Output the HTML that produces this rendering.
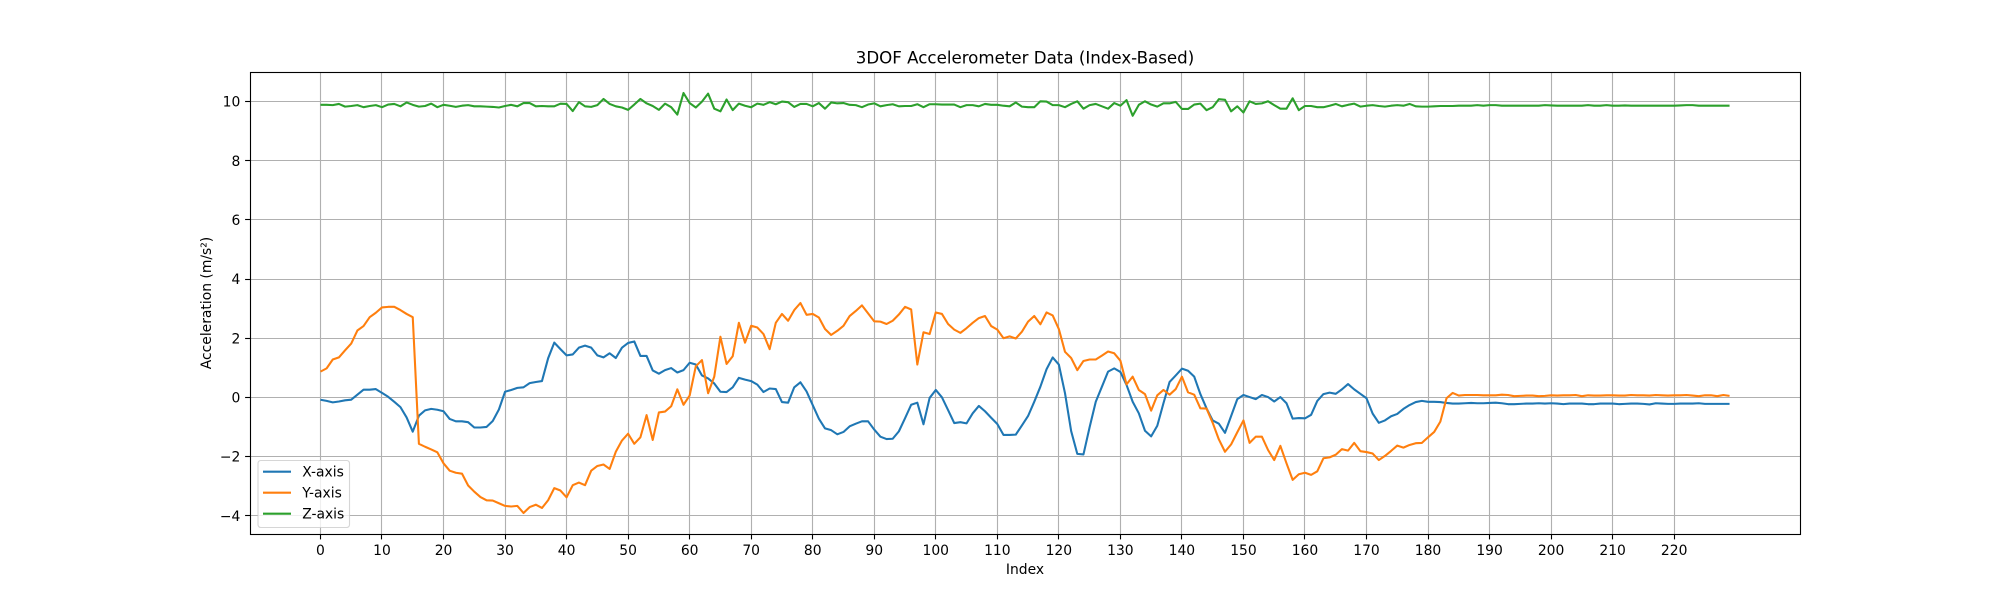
<!DOCTYPE html>
<html lang="en">
<head>
<meta charset="utf-8">
<title>3DOF Accelerometer Data (Index-Based)</title>
<style>
html,body{margin:0;padding:0;background:#fff;width:2000px;height:600px;overflow:hidden}
svg{display:block}
text{font-family:"DejaVu Sans","Liberation Sans",sans-serif;fill:#000}
</style>
</head>
<body>
<svg id="chart" xmlns="http://www.w3.org/2000/svg" width="2000" height="600" viewBox="0 0 2000 600">
  <rect x="0" y="0" width="2000" height="600" fill="#ffffff"/>
  <g id="grid"></g>
  <g id="series"></g>
  <rect x="250.5" y="72.5" width="1550" height="462" fill="none" stroke="#000" stroke-width="1.11"/>
  <g id="ticks"></g>
  <text x="1025" y="63.5" font-size="16.67" text-anchor="middle">3DOF Accelerometer Data (Index-Based)</text>
  <text x="1025" y="574" font-size="13.89" text-anchor="middle">Index</text>
  <text transform="translate(211 303) rotate(-90)" font-size="13.89" text-anchor="middle">Acceleration (m/s²)</text>
  <g>
    <rect x="258" y="460.5" width="91.5" height="67" rx="2.8" ry="2.8" fill="#ffffff" fill-opacity="0.8" stroke="#cccccc" stroke-opacity="0.8" stroke-width="1.11"/>
    <line x1="263" x2="291" y1="471.7" y2="471.7" stroke="#1f77b4" stroke-width="2.08"/>
    <text x="302.2" y="476.6" font-size="13.89">X-axis</text>
    <line x1="263" x2="291" y1="492.7" y2="492.7" stroke="#ff7f0e" stroke-width="2.08"/>
    <text x="302.2" y="497.6" font-size="13.89">Y-axis</text>
    <line x1="263" x2="291" y1="513.7" y2="513.7" stroke="#2ca02c" stroke-width="2.08"/>
    <text x="302.2" y="518.6" font-size="13.89">Z-axis</text>
  </g>
</svg>
<script>
const xTickValues = [0,10,20,30,40,50,60,70,80,90,100,110,120,130,140,150,160,170,180,190,200,210,220];
const yTickValues = [-4,-2,0,2,4,6,8,10];
const xAxisValues = [
-.08,-.12,-.17,-.14,-.10,-.08,.09,.26,.26,.28,
.15,.02,-.15,-.33,-.68,-1.16,-.62,-.44,-.39,-.42,
-.47,-.73,-.81,-.81,-.84,-1.02,-1.02,-1.0,-.8,-.41,
.19,.25,.32,.34,.48,.52,.55,1.32,1.85,1.63,
1.42,1.45,1.68,1.75,1.68,1.42,1.35,1.49,1.33,1.68,
1.84,1.89,1.40,1.40,.91,.80,.92,.99,.84,.92,
1.17,1.11,.74,.64,.47,.19,.18,.34,.66,.60,
.55,.43,.18,.30,.28,-.16,-.18,.34,.51,.20,
-.26,-.72,-1.05,-1.11,-1.25,-1.17,-.98,-.89,-.81,-.81,
-1.09,-1.33,-1.41,-1.40,-1.15,-.71,-.25,-.18,-.91,-.02,
.25,0,-.43,-.87,-.84,-.88,-.54,-.29,-.47,-.69,
-.90,-1.27,-1.27,-1.26,-.95,-.63,-.15,.36,.95,1.35,
1.11,.14,-1.14,-1.91,-1.93,-1.01,-.15,.36,.87,.98,
.86,.42,-.15,-.54,-1.13,-1.32,-.96,-.2,.52,.74,
.97,.90,.70,.11,-.37,-.78,-.89,-1.20,-.63,-.06,
.08,.01,-.06,.08,.01,-.14,.01,-.2,-.72,-.70,
-.71,-.59,-.12,.11,.16,.12,.27,.45,.27,.12,
-.03,-.55,-.86,-.78,-.64,-.56,-.39,-.26,-.16,-.12,
-.15,-.15,-.16,-.19,-.21,-.21,-.20,-.19,-.2,-.2,
-.19,-.18,-.2,-.23,-.23,-.22,-.21,-.21,-.2,-.21,
-.2,-.21,-.23,-.21,-.21,-.21,-.23,-.23,-.21,-.21,
-.21,-.23,-.22,-.21,-.21,-.22,-.24,-.2,-.21,-.22,
-.22,-.21,-.21,-.21,-.2,-.22,-.22,-.22,-.22,-.22
];
const yAxisValues = [
.87,.98,1.28,1.35,1.59,1.82,2.26,2.41,2.71,2.86,
3.04,3.06,3.06,2.95,2.82,2.71,-1.57,-1.67,-1.76,-1.86,
-2.23,-2.48,-2.55,-2.58,-2.98,-3.19,-3.37,-3.48,-3.49,-3.58,
-3.67,-3.69,-3.67,-3.91,-3.71,-3.63,-3.74,-3.48,-3.07,-3.15,
-3.38,-2.97,-2.88,-2.97,-2.48,-2.32,-2.27,-2.42,-1.84,-1.46,
-1.23,-1.57,-1.35,-.6,-1.44,-.51,-.48,-.30,.27,-.25,
.06,1.05,1.26,.14,.70,2.05,1.13,1.39,2.52,1.85,
2.42,2.36,2.14,1.63,2.52,2.82,2.59,2.95,3.19,2.79,
2.82,2.70,2.31,2.11,2.25,2.42,2.75,2.92,3.11,2.84,
2.57,2.56,2.48,2.59,2.80,3.06,2.97,1.11,2.20,2.14,
2.87,2.82,2.48,2.29,2.18,2.34,2.52,2.68,2.75,2.41,
2.29,2.0,2.06,1.99,2.22,2.56,2.75,2.47,2.87,2.77,
2.31,1.54,1.33,.92,1.23,1.28,1.28,1.41,1.55,1.49,
1.24,.44,.70,.25,.11,-.45,.07,.25,.09,.28,
.70,.17,.09,-.37,-.38,-.86,-1.42,-1.84,-1.59,-1.18,
-.78,-1.54,-1.33,-1.33,-1.78,-2.12,-1.64,-2.23,-2.79,-2.60,
-2.55,-2.62,-2.50,-2.06,-2.03,-1.94,-1.75,-1.80,-1.54,-1.82,
-1.85,-1.90,-2.12,-1.98,-1.81,-1.63,-1.70,-1.61,-1.55,-1.54,
-1.35,-1.17,-.82,-.03,.15,.06,.08,.08,.08,.07,
.07,.07,.09,.08,.04,.05,.06,.06,.04,.05,
.07,.06,.07,.07,.08,.04,.07,.06,.06,.07,
.07,.06,.06,.08,.07,.07,.06,.08,.07,.06,
.07,.07,.08,.06,.04,.07,.07,.04,.08,.05
];
const zAxisValues = [
9.89,9.89,9.88,9.92,9.83,9.85,9.88,9.81,9.85,9.88,
9.81,9.90,9.92,9.84,9.97,9.89,9.83,9.85,9.93,9.81,
9.89,9.86,9.82,9.86,9.88,9.84,9.84,9.83,9.82,9.80,
9.85,9.89,9.84,9.95,9.95,9.84,9.85,9.84,9.84,9.93,
9.92,9.68,9.98,9.84,9.82,9.88,10.09,9.92,9.84,9.80,
9.72,9.90,10.09,9.94,9.85,9.72,9.93,9.81,9.56,10.29,
9.95,9.80,10.0,10.27,9.76,9.67,10.07,9.71,9.93,9.86,
9.81,9.93,9.89,9.98,9.91,10.0,9.98,9.82,9.92,9.92,
9.84,9.95,9.76,9.97,9.94,9.95,9.89,9.88,9.81,9.90,
9.94,9.84,9.88,9.91,9.84,9.85,9.85,9.91,9.81,9.91,
9.91,9.90,9.90,9.90,9.81,9.88,9.88,9.84,9.92,9.89,
9.89,9.86,9.84,9.97,9.83,9.81,9.81,10.01,10.0,9.88,
9.88,9.81,9.92,10.01,9.76,9.88,9.92,9.84,9.76,9.95,
9.86,10.05,9.52,9.89,10.01,9.90,9.83,9.94,9.94,9.99,
9.75,9.75,9.90,9.93,9.71,9.81,10.08,10.06,9.67,9.84,
9.63,10.01,9.92,9.94,10.01,9.88,9.76,9.76,10.11,9.71,
9.85,9.85,9.81,9.81,9.86,9.92,9.84,9.89,9.93,9.83,
9.86,9.88,9.85,9.83,9.86,9.88,9.86,9.92,9.84,9.83,
9.83,9.84,9.85,9.85,9.85,9.86,9.86,9.86,9.88,9.86,
9.88,9.88,9.86,9.86,9.86,9.86,9.86,9.86,9.86,9.88,
9.87,9.86,9.86,9.86,9.86,9.86,9.88,9.86,9.86,9.88,
9.86,9.86,9.87,9.86,9.86,9.86,9.86,9.86,9.86,9.86,
9.86,9.87,9.88,9.88,9.86,9.86,9.86,9.86,9.86,9.86
];

const SVG_NS = 'http://www.w3.org/2000/svg';
const plotLeft = 250, plotRight = 1800, plotTop = 72, plotBottom = 534;

const allValues = xAxisValues.concat(yAxisValues, zAxisValues);
const lastIndex = Math.max(xAxisValues.length, yAxisValues.length, zAxisValues.length) - 1;
const dataMin = Math.min.apply(null, allValues);
const dataMax = Math.max.apply(null, allValues);
const xMargin = lastIndex * 0.05;
const yMargin = (dataMax - dataMin) * 0.05;

function xScale(v) {
  return plotLeft + (v + xMargin) / (lastIndex + 2 * xMargin) * (plotRight - plotLeft);
}
function yScale(v) {
  return plotBottom - (v - dataMin + yMargin) / (dataMax - dataMin + 2 * yMargin) * (plotBottom - plotTop);
}
function snap(p) {
  return Math.round(p - 0.5) + 0.5;
}
function formatTick(v) {
  return v < 0 ? '\u2212' + Math.abs(v) : String(v);
}
function makeLine(x1, y1, x2, y2, color) {
  const el = document.createElementNS(SVG_NS, 'line');
  el.setAttribute('x1', x1);
  el.setAttribute('y1', y1);
  el.setAttribute('x2', x2);
  el.setAttribute('y2', y2);
  el.setAttribute('stroke', color);
  el.setAttribute('stroke-width', '1.11');
  return el;
}
function makeLabel(x, y, anchor, content) {
  const el = document.createElementNS(SVG_NS, 'text');
  el.setAttribute('x', x);
  el.setAttribute('y', y);
  el.setAttribute('font-size', '13.89');
  el.setAttribute('text-anchor', anchor);
  el.textContent = content;
  return el;
}

const gridGroup = document.getElementById('grid');
const tickGroup = document.getElementById('ticks');
const seriesGroup = document.getElementById('series');

xTickValues.forEach(function (v) {
  const px = snap(xScale(v));
  const gridLine = makeLine(px, plotTop, px, plotBottom, '#b0b0b0');
  
  
  gridGroup.appendChild(gridLine);
  const tick = makeLine(px, plotBottom, px, plotBottom + 5.4, '#000');
  
  
  tickGroup.appendChild(tick);
  const label = makeLabel(xScale(v), 555, 'middle', formatTick(v));
  
  
  tickGroup.appendChild(label);
});

yTickValues.forEach(function (v) {
  const py = snap(yScale(v));
  const gridLine = makeLine(plotLeft, py, plotRight, py, '#b0b0b0');
  
  
  gridGroup.appendChild(gridLine);
  const tick = makeLine(plotLeft - 4.9, py, plotLeft, py, '#000');
  
  
  tickGroup.appendChild(tick);
  const label = makeLabel(240.3, yScale(v) + 5.1, 'end', formatTick(v));
  
  
  tickGroup.appendChild(label);
});

function drawSeries(values, color, name) {
  const path = document.createElementNS(SVG_NS, 'path');
  const d = values.map(function (v, i) {
    return (i === 0 ? 'M' : 'L') + xScale(i).toFixed(2) + ' ' + yScale(v).toFixed(2);
  }).join(' ');
  path.setAttribute('d', d);
  path.setAttribute('fill', 'none');
  path.setAttribute('stroke', color);
  path.setAttribute('stroke-width', '2.08');
  path.setAttribute('stroke-linejoin', 'round');
  path.setAttribute('stroke-linecap', 'butt');
  
  
  seriesGroup.appendChild(path);
}
drawSeries(xAxisValues, '#1f77b4', 'x-axis-series');
drawSeries(yAxisValues, '#ff7f0e', 'y-axis-series');
drawSeries(zAxisValues, '#2ca02c', 'z-axis-series');
</script>
</body>
</html>
